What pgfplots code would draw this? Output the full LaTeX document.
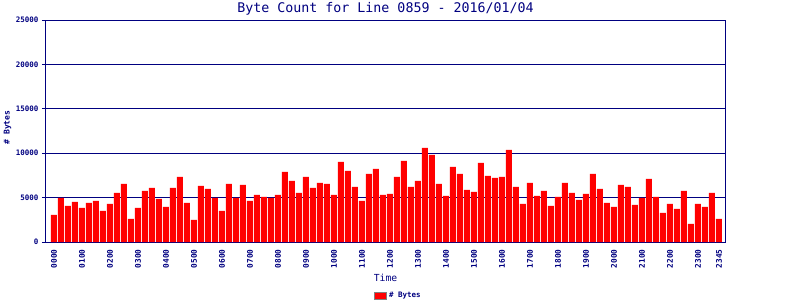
\documentclass[border=0pt]{standalone}
\usepackage{fontspec}
\setmainfont{DejaVu Sans Mono}
\usepackage{pgfplots}
\usepackage{pgfplotstable}
\pgfplotsset{compat=1.18}
\definecolor{navy}{RGB}{0,0,128}
\pgfplotstableread{
x y
0 3046
1 4963
2 4061
3 4512
4 3835
5 4399
6 4625
7 3497
8 4286
9 5527
10 6542
11 2594
12 3835
13 5753
14 6091
15 4850
16 3948
17 6091
18 7332
19 4399
20 2482
21 6317
22 5978
23 4963
24 3497
25 6542
26 4963
27 6430
28 4625
29 5302
30 5076
31 4963
32 5302
33 7896
34 6881
35 5527
36 7332
37 6091
38 6655
39 6542
40 5302
41 9024
42 8009
43 6204
44 4625
45 7670
46 8234
47 5302
48 5414
49 7332
50 9137
51 6204
52 6881
53 10603
54 9814
55 6542
56 5189
57 8460
58 7670
59 5866
60 5640
61 8911
62 7445
63 7219
64 7332
65 10378
66 6204
67 4286
68 6655
69 5189
70 5753
71 4061
72 5076
73 6655
74 5527
75 4738
76 5414
77 7670
78 5978
79 4399
80 3948
81 6430
82 6204
83 4174
84 4963
85 7106
86 5076
87 3271
88 4286
89 3722
90 5753
91 2030
92 4286
93 3948
94 5527
95 2594
}\datatable
\begin{document}
\begin{tikzpicture}[x=1pt,y=1pt]
\useasboundingbox (0,0) rectangle (800,300);
\begin{axis}[
  at={(46pt,58pt)}, anchor=south west,
  scale only axis, width=679pt, height=222pt,
  xmin=-1.14, xmax=95.86, ymin=0, ymax=25000,
  ytick={0,5000,10000,15000,20000,25000},
  ymajorgrids, grid style={navy, line width=1pt},
  axis line style={navy, line width=1pt},
  ytick pos=left, tick align=outside, major tick length=4pt,
  tick style={navy, line width=1pt},
  xtick={0,4,8,12,16,20,24,28,32,36,40,44,48,52,56,60,64,68,72,76,80,84,88,92,95},
  xticklabels={0000,0100,0200,0300,0400,0500,0600,0700,0800,0900,1000,1100,1200,1300,1400,1500,1600,1700,1800,1900,2000,2100,2200,2300,2345},
  x tick style={draw=none},
  x tick label style={rotate=90, anchor=east, font=\bfseries\fontsize{7.8}{8}\selectfont, text=navy},
  y tick label style={font=\bfseries\fontsize{7.5}{8}\selectfont, text=navy},
  scaled y ticks=false,
  /pgf/number format/.cd, fixed, 1000 sep={}, assume math mode=true, /pgfplots/.cd,
  every axis title shift=0pt,
  title={Byte Count for Line 0859 - 2016/01/04},
  title style={at={(axis description cs:0.5,1.0347)}, anchor=base, yshift=0pt, font=\fontsize{13.3}{14}\selectfont, text=navy},
  xlabel={Time},
  xlabel style={at={(axis description cs:0.5,-0.1788)}, anchor=base, yshift=0pt, font=\fontsize{9.7}{11}\selectfont, text=navy},
  ylabel={\# Bytes},
  ylabel style={at={(axis description cs:-0.0567,0.516)}, anchor=center, xshift=0pt, yshift=0pt, font=\bfseries\fontsize{8}{9}\selectfont, text=navy},
  legend style={at={(axis description cs:0.519,-0.241)}, anchor=center, draw=none, fill=none, font=\bfseries\fontsize{7.5}{8}\selectfont, text=navy, inner sep=0pt},
  legend cell align=left,
]
\addplot[ybar, bar width=6pt, fill=red, draw=none,
  legend image code/.code={\draw[fill=red, draw=gray, line width=1pt] (0pt,-3.5pt) rectangle (12pt,3.5pt);}]
  table[x=x, y=y] {\datatable};
\addlegendentry{\# Bytes}
\end{axis}
\end{tikzpicture}
\end{document}
